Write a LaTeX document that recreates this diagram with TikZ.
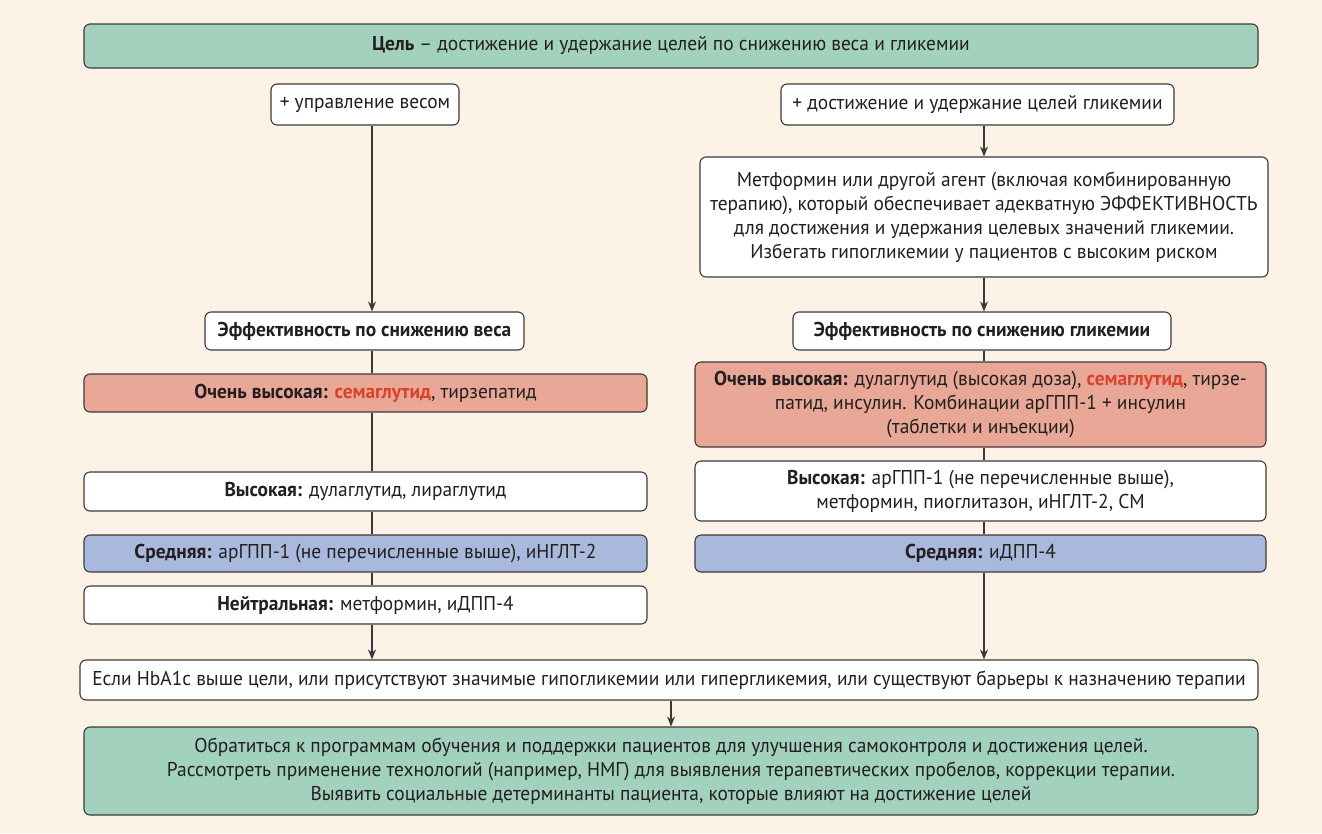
\documentclass[tikz,border=0pt]{standalone}
\usepackage{fontspec}
\setmainfont{PT Sans}[FakeStretch=0.97]
\usetikzlibrary{arrows.meta}
\definecolor{bgc}{HTML}{FDF2E6}
\definecolor{greenc}{HTML}{A2D2BD}
\definecolor{salmonc}{HTML}{E8A797}
\definecolor{bluec}{HTML}{A8B9DC}
\definecolor{redc}{HTML}{D9432A}
\definecolor{bordc}{HTML}{3A3A3A}
\definecolor{txtc}{HTML}{231F20}
\begin{document}
\begin{tikzpicture}[x=1pt,y=-1pt,
  box/.style={draw=bordc, line width=1.1pt, rounded corners=6pt, fill=white, align=center,
    inner sep=0pt, text=txtc, font=\fontsize{20}{24}\selectfont},
  arr/.style={draw=bordc, line width=1.1pt, -{Stealth[length=10pt,width=8pt]}},
  lnk/.style={draw=bordc, line width=1.1pt}]
\fill[bgc] (0,0) rectangle (1322,833);
\useasboundingbox (0,0) rectangle (1322,833);

\node[box, fill=greenc, minimum width=1174pt, minimum height=44pt] (goal) at (671,46)
  {\textbf{Цель} – достижение и удержание целей по снижению веса и гликемии};
\node[box, minimum width=188pt, minimum height=41pt] (w1) at (365,104.5) {+ управление весом};
\node[box, minimum width=393pt, minimum height=41pt] (g1) at (977.5,104.5) {+ достижение и удержание целей гликемии};
\node[box, minimum width=568pt, minimum height=120pt] (met) at (984,217)
  {Метформин или другой агент (включая комбинированную\\терапию), который обеспечивает адекватную ЭФФЕКТИВНОСТЬ\\для достижения и удержания целевых значений гликемии.\\Избегать гипогликемии у пациентов с высоким риском};
\node[box, minimum width=319pt, minimum height=38pt] (weff) at (364.5,331) {\textbf{Эффективность по снижению веса}};
\node[box, minimum width=378pt, minimum height=38pt] (geff) at (982,331) {\textbf{Эффективность по снижению гликемии}};
\node[box, fill=salmonc, minimum width=563pt, minimum height=38pt] (lvh) at (365.5,393)
  {\textbf{Очень высокая:} \textcolor{redc}{\textbf{семаглутид}}, тирзепатид};
\node[box, fill=salmonc, minimum width=571pt, minimum height=85pt] (rvh) at (980.5,404.5)
  {\textbf{Очень высокая:} дулаглутид (высокая доза), \textcolor{redc}{\textbf{семаглутид}}, тирзе-\\патид, инсулин. Комбинации арГПП-1 + инсулин\\(таблетки и инъекции)};
\node[box, minimum width=563pt, minimum height=39pt] (lh) at (365.5,491.5)
  {\textbf{Высокая:} дулаглутид, лираглутид};
\node[box, minimum width=571pt, minimum height=60pt] (rh) at (980.5,491)
  {\textbf{Высокая:} арГПП-1 (не перечисленные выше),\\метформин, пиоглитазон, иНГЛТ-2, СМ};
\node[box, fill=bluec, minimum width=563pt, minimum height=37pt] (lm) at (365.5,553.5)
  {\textbf{Средняя:} арГПП-1 (не перечисленные выше), иНГЛТ-2};
\node[box, fill=bluec, minimum width=571pt, minimum height=37pt] (rm) at (980.5,553.5)
  {\textbf{Средняя:} иДПП-4};
\node[box, minimum width=563pt, minimum height=38pt] (ln) at (365.5,605)
  {\textbf{Нейтральная:} метформин, иДПП-4};
\node[box, minimum width=1178pt, minimum height=40pt] (cond) at (669,680)
  {Если HbA1c выше цели, или присутствуют значимые гипогликемии или гипергликемия, или существуют барьеры к назначению терапии};
\node[box, fill=greenc, minimum width=1174pt, minimum height=88pt] (fin) at (671,771)
  {Обратиться к программам обучения и поддержки пациентов для улучшения самоконтроля и достижения целей.\\Рассмотреть применение технологий (например, НМГ) для выявления терапевтических пробелов, коррекции терапии.\\Выявить социальные детерминанты пациента, которые влияют на достижение целей};

\coordinate (lx) at (372,0);
\coordinate (rx) at (984,0);
\coordinate (bx) at (671,0);

\draw[arr] (w1.south -| lx) -- (weff.north -| lx);
\draw[lnk] (weff.south -| lx) -- (lvh.north -| lx);
\draw[lnk] (lvh.south -| lx) -- (lh.north -| lx);
\draw[lnk] (lh.south -| lx) -- (lm.north -| lx);
\draw[lnk] (lm.south -| lx) -- (ln.north -| lx);
\draw[arr] (ln.south -| lx) -- (cond.north -| lx);

\draw[arr] (g1.south -| rx) -- (met.north -| rx);
\draw[arr] (met.south -| rx) -- (geff.north -| rx);
\draw[lnk] (geff.south -| rx) -- (rvh.north -| rx);
\draw[lnk] (rvh.south -| rx) -- (rh.north -| rx);
\draw[lnk] (rh.south -| rx) -- (rm.north -| rx);
\draw[arr] (rm.south -| rx) -- (cond.north -| rx);

\draw[arr] (cond.south -| bx) -- (fin.north -| bx);
\end{tikzpicture}
\end{document}
